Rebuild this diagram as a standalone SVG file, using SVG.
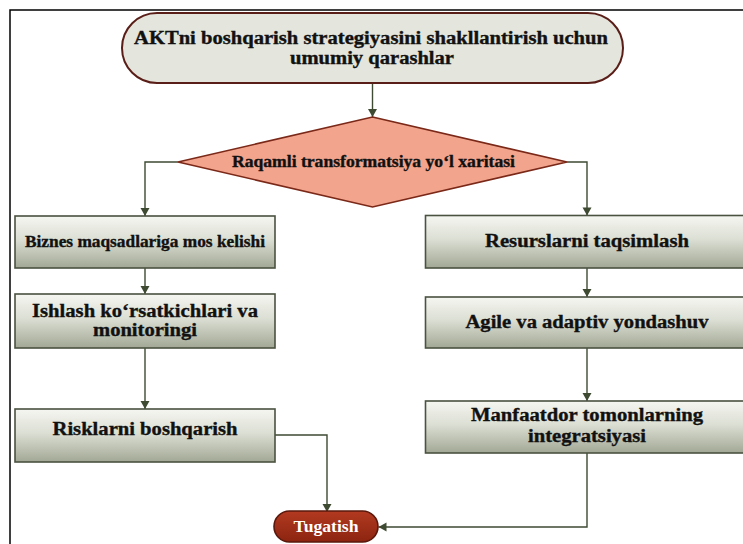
<svg xmlns="http://www.w3.org/2000/svg" width="743" height="544" viewBox="0 0 743 544">
  <defs>
    <linearGradient id="boxFill" x1="0" y1="0" x2="0" y2="1">
      <stop offset="0" stop-color="#f5f6f1"/>
      <stop offset="0.45" stop-color="#dcdfd4"/>
      <stop offset="1" stop-color="#a2a895"/>
    </linearGradient>
    <linearGradient id="endFill" x1="0" y1="0" x2="0" y2="1">
      <stop offset="0" stop-color="#b23a20"/>
      <stop offset="1" stop-color="#8c2410"/>
    </linearGradient>
    <marker id="arrow" markerUnits="userSpaceOnUse" markerWidth="10" markerHeight="10" viewBox="0 0 10 10" refX="9" refY="5" orient="auto">
      <path d="M1,0.5 L9,5 L1,9.5 z" fill="#3e4a32"/>
    </marker>
    <style>
      .frame { fill: none; stroke: #000; stroke-width: 1.5; }
      .box { fill: url(#boxFill); stroke: #4a5240; stroke-width: 1.6; }
      .start { fill: #e4e5dc; stroke: #5a1e18; stroke-width: 2; }
      .decision { fill: #f3a48d; stroke: #7a2818; stroke-width: 1.6; }
      .end { fill: url(#endFill); stroke: #5a180c; stroke-width: 1.6; }
      .conn { fill: none; stroke: #3e4a32; stroke-width: 1.4; marker-end: url(#arrow); }
      text { font-family: "Liberation Serif", "Times New Roman", serif; font-weight: bold; text-anchor: middle; fill: #111; }
      .lbl { stroke: #111; stroke-width: 0.35; }
      .t18 { font-size: 18px; }
      .t16 { font-size: 16px; }
      .white { fill: #ffffff; font-size: 16px; }
    </style>
  </defs>

  <!-- page frame -->
  <path class="frame" d="M10,544 L10,10 L743,10"/>

  <!-- connectors -->
  <g id="connectors">
    <path class="conn" d="M372.5,83 L372.5,117"/>
    <path class="conn" d="M178,162 L145,162 L145,216"/>
    <path class="conn" d="M567,162 L587,162 L587,215.5"/>
    <path class="conn" d="M145,268 L145,294"/>
    <path class="conn" d="M587,268 L587,297"/>
    <path class="conn" d="M145,348 L145,409"/>
    <path class="conn" d="M587,348 L587,401"/>
    <path class="conn" d="M275,435 L327,435 L327,512"/>
    <path class="conn" d="M587,453 L587,527 L378.5,527"/>
  </g>

  <!-- start terminator -->
  <g id="start">
    <rect class="start" x="122" y="13" width="501" height="70" rx="35" ry="35"/>
    <text class="t18 lbl" x="371" y="43.5" textLength="474" lengthAdjust="spacingAndGlyphs">AKTni boshqarish strategiyasini shakllantirish uchun</text>
    <text class="t18 lbl" x="372" y="64" textLength="164" lengthAdjust="spacingAndGlyphs">umumiy qarashlar</text>
  </g>

  <!-- decision -->
  <g id="roadmap">
    <polygon class="decision" points="372.5,117 567,162 372.5,207 178,162"/>
    <text class="t16 lbl" x="373.5" y="167" textLength="283" lengthAdjust="spacingAndGlyphs">Raqamli transformatsiya yo‘l xaritasi</text>
  </g>

  <!-- left column -->
  <g id="business-alignment">
    <rect class="box" x="15" y="216" width="260" height="52"/>
    <text class="t16 lbl" x="145" y="247" textLength="240" lengthAdjust="spacingAndGlyphs">Biznes maqsadlariga mos kelishi</text>
  </g>
  <g id="performance-monitoring">
    <rect class="box" x="15" y="294" width="260" height="54"/>
    <text class="t18 lbl" x="145" y="317" textLength="226" lengthAdjust="spacingAndGlyphs">Ishlash ko‘rsatkichlari va</text>
    <text class="t18 lbl" x="145" y="336" textLength="104" lengthAdjust="spacingAndGlyphs">monitoringi</text>
  </g>
  <g id="risk-management">
    <rect class="box" x="15" y="409" width="260" height="53"/>
    <text class="t18 lbl" x="145" y="435" textLength="185" lengthAdjust="spacingAndGlyphs">Risklarni boshqarish</text>
  </g>

  <!-- right column -->
  <g id="resource-allocation">
    <rect class="box" x="425.5" y="215.5" width="322" height="52.5"/>
    <text class="t18 lbl" x="587" y="247" textLength="204" lengthAdjust="spacingAndGlyphs">Resurslarni taqsimlash</text>
  </g>
  <g id="agile-approach">
    <rect class="box" x="425.5" y="297" width="322" height="51"/>
    <text class="t18 lbl" x="587" y="328" textLength="243" lengthAdjust="spacingAndGlyphs">Agile va adaptiv yondashuv</text>
  </g>
  <g id="stakeholder-integration">
    <rect class="box" x="425.5" y="401" width="322" height="52"/>
    <text class="t18 lbl" x="587" y="420.5" textLength="232" lengthAdjust="spacingAndGlyphs">Manfaatdor tomonlarning</text>
    <text class="t18 lbl" x="587" y="442" textLength="118" lengthAdjust="spacingAndGlyphs">integratsiyasi</text>
  </g>

  <!-- end terminator -->
  <g id="finish">
    <rect class="end" x="274" y="511" width="104" height="31" rx="15.5" ry="15.5"/>
    <text class="white" x="326" y="532" textLength="65" lengthAdjust="spacingAndGlyphs">Tugatish</text>
  </g>
</svg>
